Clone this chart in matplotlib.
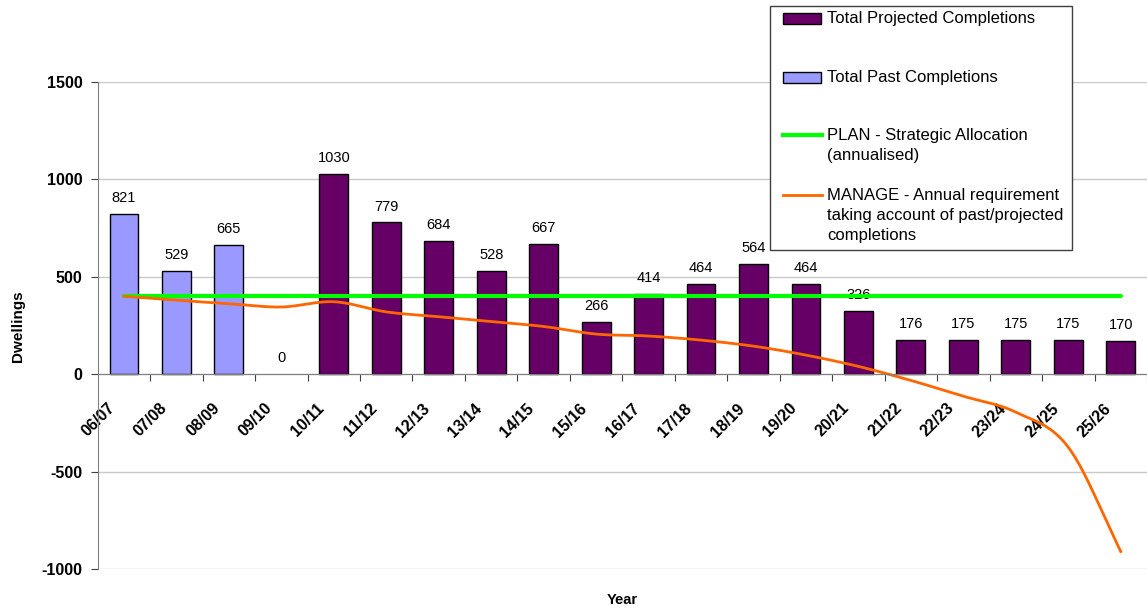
import numpy as np
import matplotlib
matplotlib.use("Agg")
import matplotlib.pyplot as plt
from matplotlib.patches import Rectangle
from matplotlib.lines import Line2D
from matplotlib.transforms import ScaledTranslation

plt.rcParams['font.family'] = ['Liberation Sans', 'DejaVu Sans']
plt.rcParams['axes.unicode_minus'] = False

# data
years = ['06/07', '07/08', '08/09', '09/10', '10/11', '11/12', '12/13', '13/14',
         '14/15', '15/16', '16/17', '17/18', '18/19', '19/20', '20/21', '21/22',
         '22/23', '23/24', '24/25', '25/26']
past = [821, 529, 665, 0]
projected = [1030, 779, 684, 528, 667, 266, 414, 464, 564, 464, 326, 176,
             175, 175, 175, 170]
plan = [400] * 20
manage = [400, 380, 362, 345, 372, 320, 295, 270, 245, 206, 196, 175, 144, 98,
          40, -32, -113, -195, -375, -910]

PURPLE = '#660066'
LILAC = '#9999FF'
GREEN = '#00FF00'
ORANGE = '#FF6600'

W, H = 1147, 612


def smooth(x, y, n=24):
    # Catmull-Rom style curve through the points, like Excel's smoothed line
    x = np.asarray(x, float)
    y = np.asarray(y, float)
    px = np.concatenate([[2 * x[0] - x[1]], x, [2 * x[-1] - x[-2]]])
    py = np.concatenate([[2 * y[0] - y[1]], y, [2 * y[-1] - y[-2]]])
    xs, ys = [], []
    t = np.linspace(0, 1, n)
    for i in range(1, len(px) - 2):
        p0, p1, p2, p3 = [np.array([px[j], py[j]]) for j in range(i - 1, i + 3)]
        c1 = p1 + (p2 - p0) / 6
        c2 = p2 - (p3 - p1) / 6
        b = ((1 - t) ** 3)[:, None] * p1 + (3 * (1 - t) ** 2 * t)[:, None] * c1 \
            + (3 * (1 - t) * t ** 2)[:, None] * c2 + (t ** 3)[:, None] * p2
        xs.extend(b[:, 0])
        ys.extend(b[:, 1])
    return xs, ys


fig = plt.figure(figsize=(W / 100, H / 100), dpi=100)
ax = fig.add_axes([97.7 / W, 1 - 569 / H, (W - 97.7) / W, (569 - 82) / H])

xpos = np.arange(len(years))
xp = xpos[:len(past)]
xq = xpos[len(past):]

ax.bar(xp, past, width=0.55, color=LILAC, edgecolor='black',
       linewidth=[1 if v else 0 for v in past], zorder=2)
ax.bar(xq, projected, width=0.55, color=PURPLE, edgecolor='black', linewidth=1, zorder=2)

for x, v in zip(list(xp) + list(xq), past + projected):
    ax.annotate(str(v), (x, max(v, 0)), xytext=(0, 8.6), textcoords='offset points',
                ha='center', va='baseline', fontsize=10.5)

ax.plot(xpos, plan, color=GREEN, linewidth=3, zorder=3, solid_capstyle='round')
sx, sy = smooth(xpos, manage)
ax.plot(sx, sy, color=ORANGE, linewidth=2, zorder=4)

ax.set_xlim(-0.5, len(years) - 0.5)
ax.set_ylim(-1000, 1500)
ax.set_yticks([-1000, -500, 0, 500, 1000, 1500])
ax.yaxis.grid(True, color='#C8C8C8', linewidth=1)
ax.set_axisbelow(True)

for s in ['top', 'right']:
    ax.spines[s].set_visible(False)
ax.spines['bottom'].set_position(('data', 0))
ax.spines['left'].set_color('#808080')
ax.spines['bottom'].set_color('#808080')
ax.spines['bottom'].set_zorder(5)

ax.set_xticks(np.arange(0.5, len(years), 1))
ax.set_xticklabels([])
ax.set_xticks(xpos, minor=True)
ax.set_xticklabels(years, minor=True, rotation=45, ha='right',
                   rotation_mode='anchor', fontsize=11.5, fontweight='bold')
ax.tick_params(axis='x', which='major', length=5, color='#404040', direction='out')
ax.tick_params(axis='x', which='minor', length=0, pad=19)
ax.tick_params(axis='y', length=5, color='#404040', labelsize=11.5, pad=6)
for lab in ax.get_yticklabels():
    lab.set_fontweight('bold')
shift = ScaledTranslation(-17 / 100, 0, fig.dpi_scale_trans)
for lab in ax.get_xticklabels(minor=True):
    lab.set_transform(lab.get_transform() + shift)

fig.text(18 / W, 1 - 326 / H, 'Dwellings', fontsize=11, fontweight='bold',
         rotation=90, ha='center', va='center')
fig.text(622 / W, 1 - 600 / H, 'Year', fontsize=10.5, fontweight='bold',
         ha='center', va='center')

# legend box drawn in figure pixels
def fx(p):
    return p / W


def fy(p):
    return 1 - p / H


fig.add_artist(Rectangle((fx(770), fy(250)), fx(1072) - fx(770), fy(6) - fy(250),
                         transform=fig.transFigure, facecolor='white',
                         edgecolor='#404040', linewidth=1, zorder=10))
fig.add_artist(Rectangle((fx(783), fy(24)), fx(821) - fx(783), fy(13) - fy(24),
                         transform=fig.transFigure, facecolor=PURPLE,
                         edgecolor='black', linewidth=1, zorder=11))
fig.add_artist(Rectangle((fx(783), fy(83)), fx(821) - fx(783), fy(72) - fy(83),
                         transform=fig.transFigure, facecolor=LILAC,
                         edgecolor='black', linewidth=1, zorder=11))
fig.add_artist(Line2D([fx(783), fx(822)], [fy(135), fy(135)], transform=fig.transFigure,
                      color=GREEN, linewidth=3, zorder=11))
fig.add_artist(Line2D([fx(783), fx(822)], [fy(195), fy(195)], transform=fig.transFigure,
                      color=ORANGE, linewidth=2, zorder=11))

legend_texts = [
    (18, 'Total Projected Completions'),
    (77, 'Total Past Completions'),
    (135, 'PLAN - Strategic Allocation\n(annualised)'),
    (195, 'MANAGE - Annual requirement\ntaking account of past/projected\ncompletions'),
]
for y, t in legend_texts:
    fig.text(fx(827), fy(y - 7), t, fontsize=12, ha='left', va='top',
             linespacing=1.4, zorder=12)

fig.savefig('out.png', dpi=100)
